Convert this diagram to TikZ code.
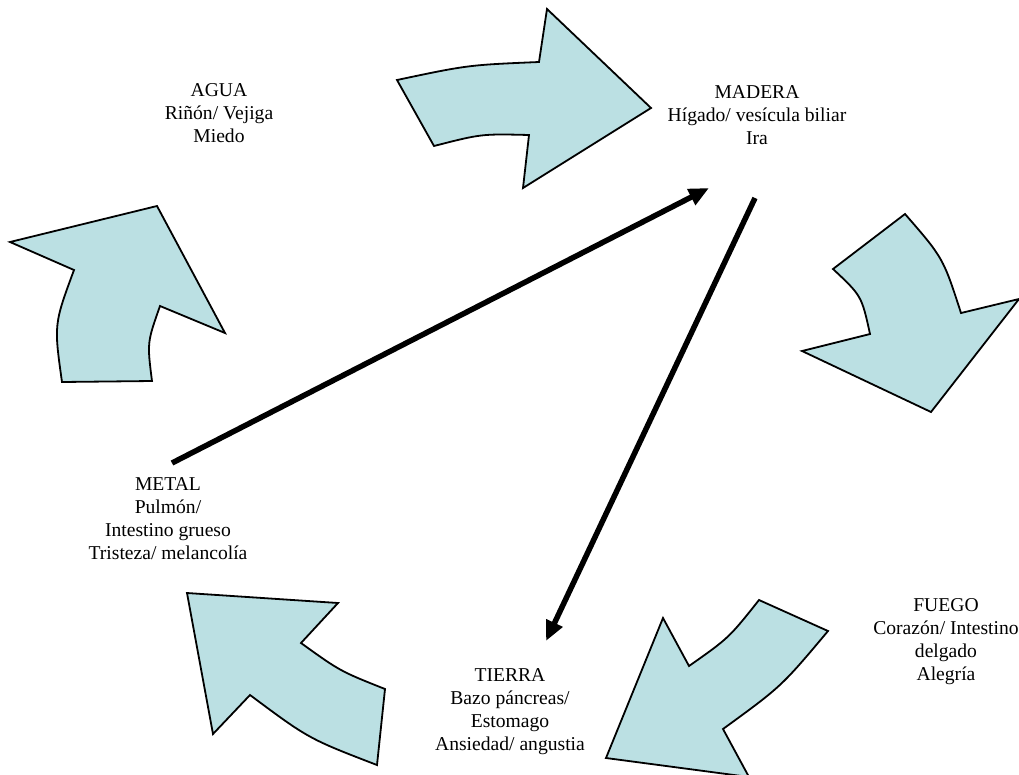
\documentclass[tikz,border=0pt]{standalone}
\usepackage{fontspec}
\setmainfont{Liberation Serif}
\usetikzlibrary{arrows.meta}
\definecolor{petal}{RGB}{187,224,227}
\begin{document}
\begin{tikzpicture}[x=1pt,y=-1pt,
  cyclearrow/.style={draw=black, line width=1.8pt, fill=petal, line join=miter},
  organ/.style={align=center, font=\fontsize{19.6}{23}\selectfont, inner sep=0pt},
  control/.style={line width=5.5pt, -{Triangle[length=20pt,width=17pt]}}]
\useasboundingbox (0,0) rectangle (1019,774);
\clip (0,0) rectangle (1019,774);

% curved block arrows of the generating cycle
% Agua -> Madera
\draw[cyclearrow] (397,80) .. controls (468,65) .. (539,62) -- (547,9) -- (651,108)
  -- (523,188) -- (529,135) .. controls (481.5,133.8) .. (434,146) -- cycle;
% Madera -> Fuego
\draw[cyclearrow] (905,214) .. controls (943.1,257.8) .. (961,313) -- (1019,299) -- (931,412)
  -- (802,351) -- (870,334) .. controls (861.6,295.8) .. (833,269) -- cycle;
% Fuego -> Tierra
\draw[cyclearrow] (759,600) -- (828,631) .. controls (781.5,686.4) .. (723,729) -- (749,777)
  -- (606,758) -- (663,618) -- (689,666) .. controls (728.8,638) .. cycle;
% Tierra -> Metal
\draw[cyclearrow] (187,593) -- (338,603) -- (301,643) .. controls (340.2,671.2) .. (385,689)
  -- (377,765) .. controls (308.7,738.7) .. (250,695) -- (213,734) -- cycle;
% Metal -> Agua
\draw[cyclearrow] (10,242) -- (157,206) -- (225,333) -- (160,306) .. controls (147.1,342.6) .. (152,381)
  -- (62,382) .. controls (53.9,324.4) .. (74,270) -- cycle;

% element labels
\node[organ] (agua) at (219,113) {AGUA\\Riñón/ Vejiga\\Miedo};
\node[organ] (madera) at (757,115) {MADERA\\Hígado/ vesícula biliar\\Ira};
\node[organ] (fuego) at (946,642) {FUEGO\\Corazón/ Intestino\\delgado\\Alegría};
\node[organ] (tierra) at (510,712) {TIERRA\\Bazo páncreas/\\Estomago\\Ansiedad/ angustia};
\node[organ] (metal) at (168,519) {METAL\\Pulmón/\\Intestino grueso\\Tristeza/ melancolía};

% control arrows
\coordinate (metalfrom) at (172,463);
\coordinate (maderato) at (709,188);
\coordinate (maderafrom) at (755,198);
\coordinate (tierrato) at (546,641);
\draw[control] (metalfrom) -- (maderato);
\draw[control] (maderafrom) -- (tierrato);
\end{tikzpicture}
\end{document}
